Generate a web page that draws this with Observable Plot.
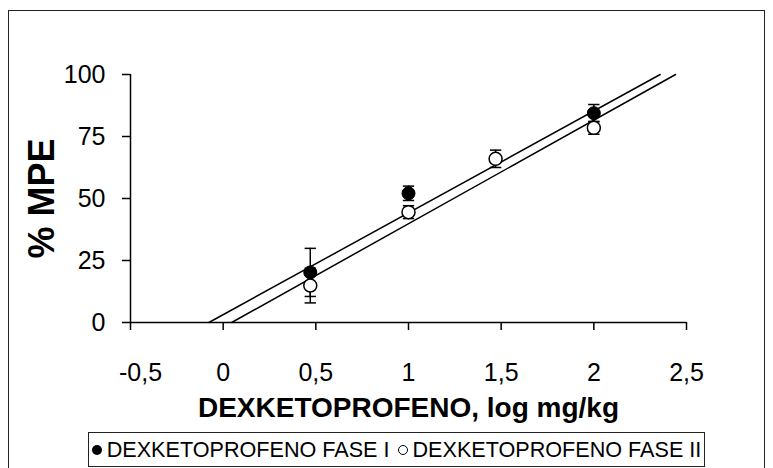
<!DOCTYPE html>
<html>
<head>
<meta charset="utf-8">
<script src="https://cdn.jsdelivr.net/npm/d3@7"></script>
<script src="https://cdn.jsdelivr.net/npm/@observablehq/plot@0.6"></script>
<style>
  html, body { margin: 0; padding: 0; background: #fff; overflow: hidden; width: 773px; height: 468px; }
  #wrap { position: relative; width: 773px; height: 468px; font-family: "Liberation Sans", Arial, sans-serif; }
  #frame { position: absolute; left: 8px; top: 10px; width: 757px; height: 480px; border: 1.5px solid #222; box-sizing: border-box; }
  #chart { position: absolute; left: 0; top: 0; }
  #legend { position: absolute; left: 88px; top: 432px; width: 617px; height: 35px; border: 1.2px solid #222; box-sizing: border-box;
            display: flex; align-items: center; justify-content: center; font-size: 21.6px; color: #000; white-space: nowrap; background: #fff; }
  .sw { display: inline-block; width: 10px; height: 10px; border-radius: 50%; margin: 0 5px 0 0; box-sizing: border-box; }
  .filled { background: #000; }
  .open { border: 1.5px solid #000; background: #fff; }
</style>
</head>
<body>
<div id="wrap">
  <div id="frame"></div>
  <div id="chart"></div>
  <div id="legend"><span class="sw filled"></span><span>DEXKETOPROFENO FASE I</span><span class="sw open" style="margin-left:8px"></span><span>DEXKETOPROFENO FASE II</span></div>
</div>
<script>
// Fase I (filled circles)
const faseI_x = [0.47, 1.0, 2.0];
const faseI_y = [20.2, 52.1, 84.4];
const faseI_err = [9.7, 2.9, 3.5];
// Fase II (open circles)
const faseII_x = [0.47, 1.0, 1.47, 2.0];
const faseII_y = [14.9, 44.5, 66.0, 78.5];
const faseII_err = [7.0, 2.6, 3.5, 2.6];
// Regression lines (endpoints)
const lineI_x = [-0.077, 2.358];
const lineI_y = [0, 100];
const lineII_x = [0.046, 2.441];
const lineII_y = [0, 100];
// Ticks
const xTicks = [-0.5, 0, 0.5, 1, 1.5, 2, 2.5];
const yTicks = [0, 25, 50, 75, 100];

const ptsI = faseI_x.map((x, i) => ({x, y: faseI_y[i], e: faseI_err[i]}));
const ptsII = faseII_x.map((x, i) => ({x, y: faseII_y[i], e: faseII_err[i]}));
const lnI = lineI_x.map((x, i) => ({x, y: lineI_y[i]}));
const lnII = lineII_x.map((x, i) => ({x, y: lineII_y[i]}));

const fmt = d => String(d).replace(".", ",");

// horizontal cap symbol for error bars
const capSymbol = {
  draw(ctx, size) {
    const w = Math.sqrt(size);
    ctx.moveTo(-w, 0);
    ctx.lineTo(w, 0);
  }
};

function errMarks(pts) {
  return [
    Plot.ruleX(pts, {x: "x", y1: d => d.y - d.e, y2: d => d.y + d.e, stroke: "#000", strokeWidth: 1.5}),
    Plot.dot(pts, {x: "x", y: d => d.y + d.e, symbol: capSymbol, r: 3.2, stroke: "#000", strokeWidth: 1.5}),
    Plot.dot(pts, {x: "x", y: d => d.y - d.e, symbol: capSymbol, r: 3.2, stroke: "#000", strokeWidth: 1.5})
  ];
}

const chart = Plot.plot({
  width: 773,
  height: 430,
  marginLeft: 130,
  marginRight: 87,
  marginTop: 74,
  marginBottom: 108,
  style: {fontFamily: "Liberation Sans, Arial, sans-serif", color: "#000", background: "transparent", overflow: "visible"},
  x: {type: "linear", domain: [-0.5, 2.5]},
  y: {type: "linear", domain: [0, 100]},
  marks: [
    Plot.axisY({ticks: yTicks, tickFormat: fmt, tickSize: 8, tickPadding: 17, fontSize: 25, label: null, strokeWidth: 1.5}),
    Plot.axisX({ticks: xTicks, tickFormat: fmt, tickSize: 8, tickPadding: 33, fontSize: 25, label: null, strokeWidth: 1.5}),
    Plot.ruleX([-0.5], {stroke: "#000", strokeWidth: 1.5}),
    Plot.ruleY([0], {stroke: "#000", strokeWidth: 1.5}),
    Plot.line(lnI, {x: "x", y: "y", stroke: "#000", strokeWidth: 1.5}),
    Plot.line(lnII, {x: "x", y: "y", stroke: "#000", strokeWidth: 1.5}),
    ...errMarks(ptsII),
    ...errMarks(ptsI),
    Plot.dot(ptsII, {x: "x", y: "y", r: 6.5, fill: "#fff", stroke: "#000", strokeWidth: 1.5}),
    Plot.dot(ptsI, {x: "x", y: "y", r: 6.5, fill: "#000", stroke: "#000", strokeWidth: 1}),
    Plot.text(["DEXKETOPROFENO, log mg/kg"], {frameAnchor: "bottom", dy: 94, fontSize: 28, fontWeight: "bold", fill: "#000"}),
    Plot.text(["% MPE"], {frameAnchor: "left", dx: -88, rotate: -90, textAnchor: "middle", fontSize: 36, fontWeight: "bold", fill: "#000"})
  ]
});
// the first x tick label sits slightly right of its tick in the reference
const xLabels = chart.querySelectorAll("g[aria-label='x-axis tick label'] text");
if (xLabels.length) xLabels[0].setAttribute("dx", "10");
document.getElementById("chart").appendChild(chart);
</script>
</body>
</html>
